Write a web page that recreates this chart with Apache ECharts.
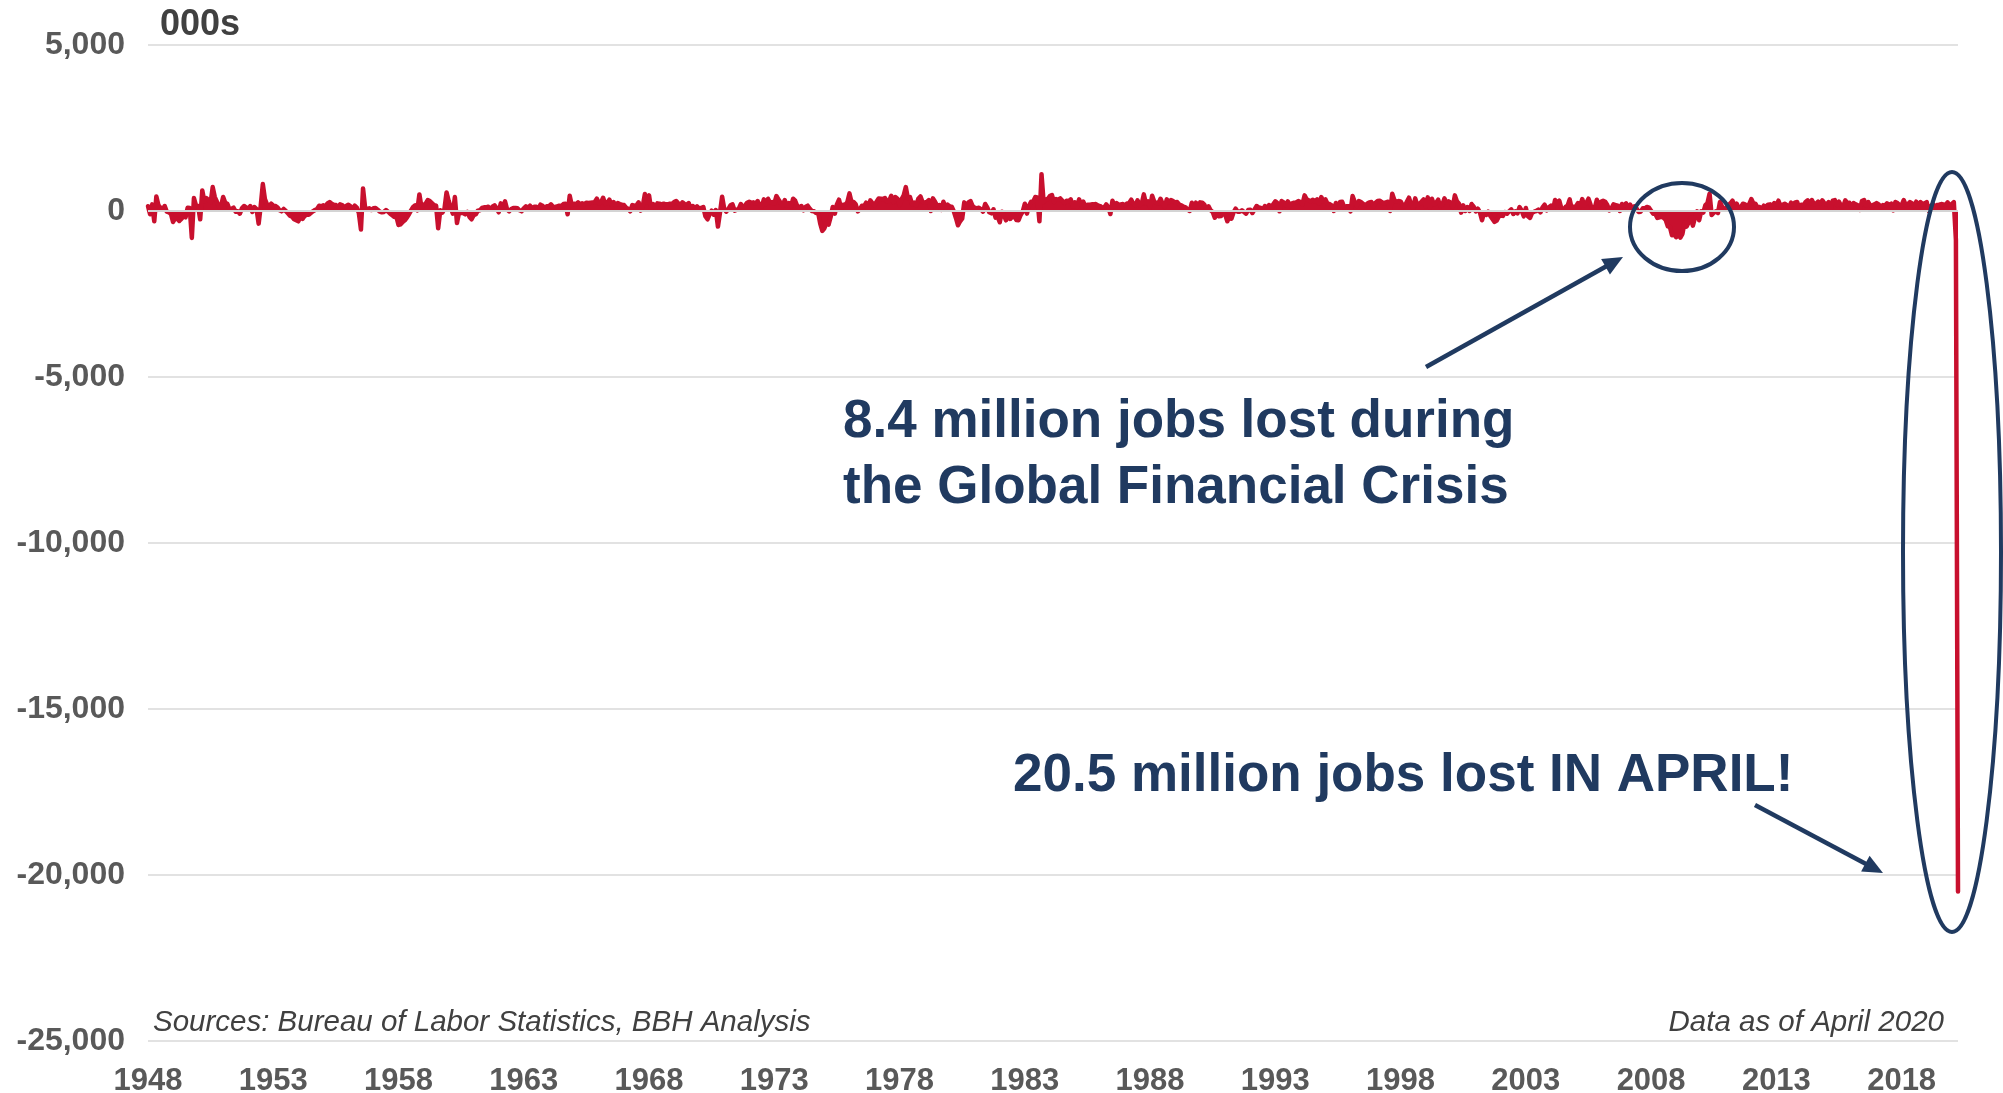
<!DOCTYPE html>
<html>
<head>
<meta charset="utf-8">
<script src="https://cdn.jsdelivr.net/npm/echarts@6/dist/echarts.min.js"></script>
<style>
html,body{margin:0;padding:0;background:#fff;}
#chart{width:2003px;height:1093px;}
</style>
</head>
<body>
<div id="chart"></div>
<script>
// Monthly change in US nonfarm payrolls, thousands (Jan 1948 – Apr 2020)
const jobs1940s = [
  145, -97, 200, -310, 440, 170, 100, 45, 150, -20, -40, -90,
  -330, -220, -230, -300, -240, -160, -190, 100, 90, -810, 390, 160
];
const jobs1950s = [
  150, -250, 620, 290, 390, 330, 250, 720, 420, 280, 120, 150,
  420, 250, 220, 50, 60, 100, -20, -10, -80, 80, 150, 110,
  60, 150, -30, 120, 60, -380, 160, 810, 360, 200, 150, 220,
  160, 150, 110, 20, -10, 60, 0, -70, -140, -170, -250, -280,
  -310, -180, -240, -150, -110, -110, -60, -10, 30, 60, 160, 140,
  170, 150, 230, 270, 220, 190, 180, 120, 200, 180, 110, 150,
  190, 140, 70, 160, 100, -60, -560, 680, 100, 60, 80, 30,
  80, 90, 40, -20, -40, -30, 30, -20, -80, -130, -180, -170,
  -420, -400, -330, -280, -200, -100, 20, 120, 170, 20, 500, 110,
  190, 220, 330, 300, 240, 180, 160, -520, 20, -50, 60, 560
];
const jobs1960s = [
  310, 110, -80, 420, -360, -40, -50, -60, -100, -30, -180, -250,
  -130, -100, 10, 20, 90, 110, 110, 130, 40, 130, 170, 80,
  -40, 230, 110, 290, 50, -10, 60, 90, 90, 80, 20, -10,
  80, 140, 90, 160, 70, 130, 130, 40, 190, 160, 60, 140,
  140, 200, 130, 120, 140, 160, 150, 210, 220, -100, 460, 170,
  220, 200, 260, 200, 230, 210, 250, 240, 250, 260, 270, 370,
  220, 260, 400, 210, 240, 340, 190, 270, 160, 240, 210, 190,
  180, 100, 70, -10, 180, 160, 170, 260, 10, 150, 510, 250,
  470, 50, 210, 80, 230, 220, 200, 220, 200, 200, 220, 210,
  270, 300, 230, 170, 260, 210, 190, 240, 40, 150, 70, 140
];
const jobs1970s = [
  70, 90, 120, -160, -250, -100, 10, -110, 30, -470, -40, 430,
  70, -20, 60, 170, 200, 10, 40, 70, 210, 60, 170, 250,
  280, 250, 260, 220, 300, 170, 130, 350, 210, 370, 250, 270,
  220, 450, 350, 250, 160, 330, 160, 240, 130, 370, 310, 150,
  110, 150, 20, 130, 160, 70, 0, -10, -60, -50, -380, -600,
  -520, -360, -410, -180, 120, -80, 200, 340, 80, 190, 180, 270,
  530, 260, 270, 200, -10, 50, 160, 140, 250, 40, 320, 240,
  170, 280, 380, 370, 360, 390, 290, 300, 460, 270, 420, 370,
  180, 360, 470, 720, 380, 420, 210, 250, 180, 370, 440, 270,
  260, 270, 330, 0, 380, 280, 160, 180, 30, 280, 100, 190
];
const jobs1980s = [
  140, 130, -10, -210, -430, -310, -230, 260, 130, 260, 300, 150,
  100, 80, 100, 50, -20, 210, 110, -40, -70, 50, -200, -180,
  -340, -20, -130, -280, -40, -240, -170, -170, -270, -280, -120, -20,
  220, -80, 160, 280, 280, 420, 410, -310, 1110, 270, 350, 360,
  450, 480, 270, 360, 340, 380, 310, 240, 310, 290, 350, 130,
  260, 120, 350, 190, 280, 130, 190, 190, 200, 200, 210, 170,
  150, 110, 100, 200, 120, -90, 310, 140, 240, 180, 200, 210,
  170, 230, 240, 340, 220, 170, 320, 180, 220, 500, 230, 290,
  110, 460, 280, 250, 230, 370, 220, 120, 350, 270, 330, 300,
  260, 270, 190, 170, 130, 110, 40, 0, 250, 110, 250, 100
];
const jobs1990s = [
  260, 250, 190, 60, 140, 20, -30, -200, -80, -160, -150, -60,
  -110, -310, -160, -230, -40, 70, -20, -20, 20, -30, -80, 30,
  40, -60, 40, 150, 110, 90, 40, 150, 60, 180, 110, 200,
  290, 240, -10, 300, 260, 180, 290, 150, 230, 250, 260, 300,
  270, 200, 470, 350, 320, 300, 340, 290, 350, 220, 420, 290,
  350, 220, 210, 170, 0, 240, 50, 270, 280, 110, 140, 140,
  -10, 450, 280, 150, 300, 270, 220, 170, 220, 260, 270, 140,
  250, 300, 310, 270, 230, 260, 280, 0, 520, 330, 280, 300,
  290, 170, 140, 280, 400, 210, 80, 380, 180, 210, 280, 350,
  140, 410, 100, 370, 190, 250, 340, 150, 190, 380, 250, 290
];
const jobs2000s = [
  250, 120, 470, 290, 220, -50, 170, 0, 120, 0, 210, 130,
  -10, 70, -40, -280, -40, -120, -20, -150, -240, -330, -290, -170,
  -130, -150, -30, -80, -10, 50, -90, -10, -70, 120, 10, -160,
  90, -160, -210, -50, -20, 0, 40, -40, 110, 190, 20, 110,
  160, 40, 330, 250, 310, 80, 40, 120, 160, 350, 60, 130,
  140, 240, 140, 360, 170, 250, 370, 190, 70, 80, 340, 160,
  280, 310, 280, 180, 20, 80, 200, 180, 160, 0, 210, 170,
  230, 90, 190, 60, 140, 80, -30, -20, 80, 80, 120, 100,
  10, -80, -80, -210, -190, -170, -210, -270, -460, -480, -730, -700,
  -790, -700, -800, -690, -350, -470, -340, -210, -440, -200, -10, -280
];
const jobs2010s = [
  -10, -50, 180, 240, 520, -120, -50, -10, -60, 270, 130, 70,
  70, 180, 230, 310, 100, 220, 80, 110, 220, 200, 140, 210,
  360, 230, 220, 100, 120, 60, 160, 130, 190, 200, 150, 240,
  190, 310, 140, 190, 220, 180, 90, 250, 200, 260, 270, 60,
  190, 170, 270, 320, 220, 330, 210, 220, 280, 220, 320, 230,
  190, 270, 70, 310, 330, 180, 280, 160, 130, 320, 230, 250,
  130, 240, 200, 170, 30, 300, 330, 160, 270, 160, 170, 200,
  240, 200, 120, 180, 160, 230, 190, 220, 20, 270, 240, 180,
  170, 330, 180, 200, 270, 230, 150, 280, 110, 270, 200, 230,
  270, 1, 150, 210, 80, 180, 190, 210, 200, 180, 260, 180
];
const jobs2020 = [210, 270, -870, -20500];

const startYear = 1948;
const yTicks = [5000, 0, -5000, -10000, -15000, -20000, -25000];

const values = [].concat(jobs1940s, jobs1950s, jobs1960s, jobs1970s, jobs1980s, jobs1990s, jobs2000s, jobs2010s, jobs2020);
const months = [];
for (let i = 0; i < values.length; i++) {
  const y = startYear + Math.floor(i / 12);
  const m = (i % 12) + 1;
  months.push(y + '-' + (m < 10 ? '0' + m : m));
}

const RED = '#C8102E';
const NAVY = '#203A60';
const FONT = '"Liberation Sans", Arial, sans-serif';

function arrow(x1, y1, x2, y2) {
  const dx = x2 - x1, dy = y2 - y1, L = Math.sqrt(dx * dx + dy * dy);
  const ux = dx / L, uy = dy / L, hl = 20, hw = 9;
  const bx = x2 - ux * hl, by = y2 - uy * hl;
  return [
    {type: 'line', shape: {x1: x1, y1: y1, x2: bx + ux * 4, y2: by + uy * 4},
     style: {stroke: NAVY, lineWidth: 4.5}, z: 10},
    {type: 'polygon', shape: {points: [[x2, y2], [bx - uy * hw, by + ux * hw], [bx + uy * hw, by - ux * hw]]},
     style: {fill: NAVY}, z: 10}
  ];
}

const chart = echarts.init(document.getElementById('chart'), null, {renderer: 'canvas'});
chart.setOption({
  animation: false,
  backgroundColor: '#ffffff',
  grid: {left: 148, right: 45, top: 45, bottom: 52, containLabel: false, outerBoundsMode: 'none'},
  xAxis: {
    type: 'category',
    data: months,
    boundaryGap: false,
    axisLine: {show: false, onZero: false},
    axisTick: {show: false},
    splitLine: {show: false},
    axisLabel: {
      interval: function (idx) { return idx % 60 === 0; },
      formatter: function (v) { return v.slice(0, 4); },
      fontFamily: FONT, fontWeight: 'bold', fontSize: 31, color: '#595959', margin: 25
    }
  },
  yAxis: {
    type: 'value',
    min: -25000, max: 5000, interval: 5000,
    axisLine: {show: false},
    axisTick: {show: false},
    splitLine: {lineStyle: {color: '#D9D9D9', width: 1.5}},
    axisLabel: {
      formatter: function (v) { return yTicks.indexOf(v) >= 0 ? v.toLocaleString('en-US') : ''; },
      fontFamily: FONT, fontWeight: 'bold', fontSize: 32, color: '#595959', margin: 23
    }
  },
  series: [{
    type: 'line',
    data: values,
    symbol: 'none',
    showSymbol: false,
    lineStyle: {color: RED, width: 4.5, cap: 'round', join: 'round'},
    areaStyle: {color: RED, opacity: 1},
    markLine: {
      silent: true, symbol: 'none', animation: false,
      label: {show: false},
      lineStyle: {color: '#D4D4D4', width: 2, type: 'solid'},
      data: [{yAxis: 0}]
    }
  }],
  graphic: [
    {type: 'text', left: 160, top: 7, z: 10,
     style: {text: '000s', font: 'bold 36px ' + FONT, fill: '#404040'}},
    {type: 'text', x: 843, y: 422, z: 10,
     style: {text: '8.4 million jobs lost during', font: 'bold 53px ' + FONT, fill: NAVY, textVerticalAlign: 'middle'}},
    {type: 'text', x: 843, y: 488, z: 10,
     style: {text: 'the Global Financial Crisis', font: 'bold 53px ' + FONT, fill: NAVY, textVerticalAlign: 'middle'}},
    {type: 'text', x: 1013, y: 776, z: 10,
     style: {text: '20.5 million jobs lost IN APRIL!', font: 'bold 53px ' + FONT, fill: NAVY, textVerticalAlign: 'middle'}},
    {type: 'text', x: 153, y: 1023, z: 10,
     style: {text: 'Sources: Bureau of Labor Statistics, BBH Analysis', font: 'italic 29.5px ' + FONT, fill: '#404040', textVerticalAlign: 'middle'}},
    {type: 'text', x: 1944, y: 1023, z: 10,
     style: {text: 'Data as of April 2020', font: 'italic 29.5px ' + FONT, fill: '#404040', textAlign: 'right', textVerticalAlign: 'middle'}},
    {type: 'ellipse', shape: {cx: 1682, cy: 227, rx: 52, ry: 44}, z: 10,
     style: {fill: 'none', stroke: NAVY, lineWidth: 4}},
    {type: 'ellipse', shape: {cx: 1952, cy: 552, rx: 49, ry: 380}, z: 10,
     style: {fill: 'none', stroke: NAVY, lineWidth: 4}}
  ].concat(arrow(1426, 367, 1623, 257), arrow(1755, 805, 1883, 873))
});
</script>
</body>
</html>
